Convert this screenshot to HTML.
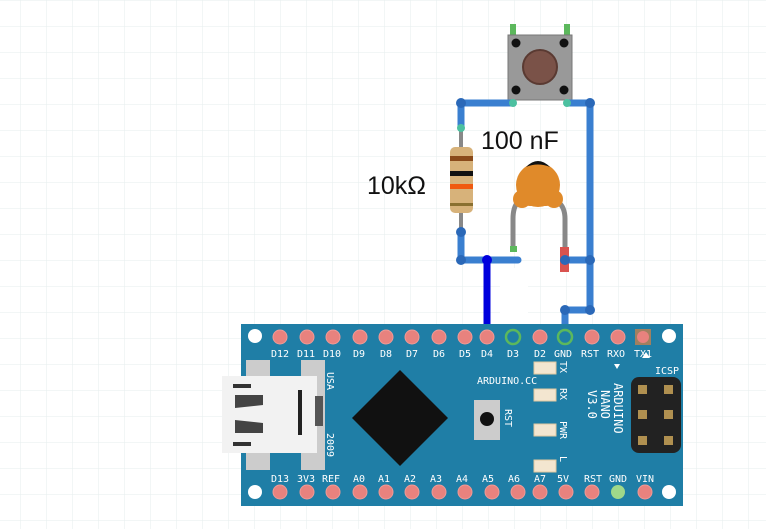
<!DOCTYPE html>
<html><head><meta charset="utf-8"><style>
body{margin:0;background:#fff;width:766px;height:529px;overflow:hidden}
svg{display:block}
.t{font-family:"DejaVu Sans Mono","Liberation Mono",monospace;font-size:10px;fill:#fff}
</style></head><body>
<svg width="766" height="529" viewBox="0 0 766 529">
<defs>
<pattern id="g" x="20" y="26" width="26" height="26" patternUnits="userSpaceOnUse">
<path d="M0 0H26M0 0V26" stroke="#e9f0f0" stroke-width="1.2" fill="none"/>
</pattern>
</defs>
<rect width="766" height="529" fill="url(#g)"/>
<rect x="500" y="268" width="28" height="60" fill="#fff"/>

<!-- pushbutton -->
<rect x="510" y="24" width="6" height="12" fill="#5cb85c"/>
<rect x="564" y="24" width="6" height="12" fill="#5cb85c"/>
<rect x="508" y="35" width="64" height="65" fill="#999" stroke="#777"/>
<circle cx="516" cy="43" r="4.5" fill="#111"/><circle cx="564" cy="43" r="4.5" fill="#111"/>
<circle cx="516" cy="90" r="4.5" fill="#111"/><circle cx="564" cy="90" r="4.5" fill="#111"/>
<circle cx="540" cy="67" r="17" fill="#7a5248" stroke="#5a3a32" stroke-width="2"/>

<!-- capacitor -->
<path d="M518 202Q513 207 513 219V250M558 202Q565 207 565 219V258" stroke="#888" stroke-width="5" fill="none"/>
<rect x="560" y="247" width="9" height="25" fill="#d9534f"/>
<rect x="510" y="246" width="7" height="6" fill="#5cb85c"/>
<circle cx="538" cy="185" r="22" fill="#e08a2a"/>
<circle cx="522" cy="199" r="9" fill="#e08a2a"/>
<circle cx="554" cy="199" r="9" fill="#e08a2a"/>
<rect x="522" y="185" width="32" height="21" rx="8" fill="#e08a2a"/>
<path d="M526 167Q538 155 550 167Q538 162 526 167z" fill="#111"/>

<!-- resistor -->
<path d="M461 128V240" stroke="#888" stroke-width="4"/>
<rect x="450" y="147" width="23" height="66" rx="5" fill="#d7b27a"/>
<rect x="450" y="156" width="23" height="5" fill="#8a4a1a"/>
<rect x="450" y="171" width="23" height="5" fill="#111"/>
<rect x="450" y="184" width="23" height="5" fill="#f05a10"/>
<rect x="450" y="203" width="23" height="3" fill="#8a7030"/>

<!-- wires -->
<g stroke="#3a7fd0" stroke-width="7" fill="none" stroke-linecap="round" stroke-linejoin="round">
<path d="M513 103H461V128"/>
<path d="M567 103H590V310H565V337"/>
<path d="M461 232V260H518"/>
<path d="M565 260H590"/>
<path d="M513 328V337" stroke="#5aa0e0"/>
</g>
<g fill="#2a68b8">
<circle cx="461" cy="103" r="5"/><circle cx="590" cy="103" r="5"/><circle cx="461" cy="232" r="5"/>
<circle cx="461" cy="260" r="5"/><circle cx="565" cy="260" r="5"/><circle cx="590" cy="260" r="5"/>
<circle cx="590" cy="310" r="5"/><circle cx="565" cy="310" r="5"/>
</g>
<g fill="#4cc0a0"><circle cx="513" cy="103" r="4"/><circle cx="567" cy="103" r="4"/><circle cx="461" cy="128" r="4"/></g>
<path d="M487 260V330" stroke="#0000dd" stroke-width="7"/>
<circle cx="487" cy="260" r="5" fill="#0000dd"/>

<text x="481" y="149" font-family="Liberation Sans,sans-serif" font-size="25" fill="#111">100 nF</text>
<text x="367" y="194" font-family="Liberation Sans,sans-serif" font-size="25" fill="#111">10kΩ</text>

<!-- board -->
<rect x="241" y="324" width="442" height="182" fill="#1f7ea6"/>
<circle cx="255" cy="336" r="7" fill="#fff"/><circle cx="669" cy="336" r="7" fill="#fff"/>
<circle cx="255" cy="492" r="7" fill="#fff"/><circle cx="669" cy="492" r="7" fill="#fff"/>
<g fill="#e8827e" stroke="#f09a96" stroke-width="1">
<circle cx="280" cy="337" r="7"/><circle cx="307" cy="337" r="7"/><circle cx="333" cy="337" r="7"/><circle cx="360" cy="337" r="7"/><circle cx="386" cy="337" r="7"/><circle cx="412" cy="337" r="7"/><circle cx="439" cy="337" r="7"/><circle cx="465" cy="337" r="7"/><circle cx="487" cy="337" r="7"/><circle cx="540" cy="337" r="7"/><circle cx="592" cy="337" r="7"/><circle cx="618" cy="337" r="7"/>
<circle cx="280" cy="492" r="7"/><circle cx="307" cy="492" r="7"/><circle cx="333" cy="492" r="7"/><circle cx="360" cy="492" r="7"/><circle cx="386" cy="492" r="7"/><circle cx="412" cy="492" r="7"/><circle cx="439" cy="492" r="7"/><circle cx="465" cy="492" r="7"/><circle cx="492" cy="492" r="7"/><circle cx="518" cy="492" r="7"/><circle cx="540" cy="492" r="7"/><circle cx="566" cy="492" r="7"/><circle cx="592" cy="492" r="7"/><circle cx="645" cy="492" r="7"/>
</g>
<rect x="635" y="329" width="16" height="16" fill="#a08060"/><circle cx="643" cy="337" r="6" fill="#e8827e"/>
<circle cx="513" cy="337" r="7" fill="#1f7ea6" stroke="#5cb85c" stroke-width="2.5"/>
<circle cx="565" cy="337" r="7" fill="#1f7ea6" stroke="#5cb85c" stroke-width="2.5"/>
<circle cx="618" cy="492" r="7" fill="#9fd88a"/>
<g class="t">
<text x="271" y="357">D12</text><text x="297" y="357">D11</text><text x="323" y="357">D10</text><text x="353" y="357">D9</text><text x="380" y="357">D8</text><text x="406" y="357">D7</text><text x="433" y="357">D6</text><text x="459" y="357">D5</text><text x="481" y="357">D4</text><text x="507" y="357">D3</text><text x="534" y="357">D2</text><text x="554" y="357">GND</text><text x="581" y="357">RST</text><text x="607" y="357">RXO</text><text x="634" y="357">TX1</text>
<text x="271" y="482">D13</text><text x="297" y="482">3V3</text><text x="322" y="482">REF</text><text x="353" y="482">A0</text><text x="378" y="482">A1</text><text x="404" y="482">A2</text><text x="430" y="482">A3</text><text x="456" y="482">A4</text><text x="482" y="482">A5</text><text x="508" y="482">A6</text><text x="534" y="482">A7</text><text x="557" y="482">5V</text><text x="584" y="482">RST</text><text x="609" y="482">GND</text><text x="636" y="482">VIN</text>
<text x="477" y="384">ARDUINO.CC</text><text x="655" y="374">ICSP</text>
</g>
<g class="t" transform="rotate(90)">
<text x="372" y="-327">USA</text><text x="433" y="-327">2009</text><text x="409" y="-505">RST</text>
<text x="361" y="-560">TX</text><text x="388" y="-560">RX</text><text x="421" y="-560">PWR</text><text x="456" y="-560">L</text>
<text x="383" y="-614" font-size="12">ARDUINO</text><text x="390" y="-601" font-size="12">NANO</text><text x="390" y="-588" font-size="12">V3.0</text>
</g>
<path d="M614 364l6 0-3 5z" fill="#fff"/>
<path d="M642 358l4-6 4 6z" fill="#fff"/>
<!-- usb -->
<rect x="246" y="360" width="24" height="110" fill="#ccc"/><rect x="301" y="360" width="24" height="110" fill="#ccc"/>
<rect x="222" y="376" width="95" height="77" fill="#f2f2f2"/>
<rect x="233" y="384" width="18" height="4" fill="#333"/><rect x="233" y="442" width="18" height="4" fill="#333"/>
<path d="M235 395h28v10l-28 3zm0 38h28v-10l-28-3z" fill="#444"/>
<rect x="298" y="390" width="4" height="45" fill="#222"/>
<rect x="315" y="396" width="8" height="30" fill="#555"/>
<!-- chip -->
<path d="M400 370l48 48-48 48-48-48z" fill="#111"/>
<rect x="474" y="400" width="26" height="40" fill="#ccc"/><circle cx="487" cy="419" r="7" fill="#111"/>
<g fill="#f3e6d0" stroke="#e0c8a0"><rect x="534" y="362" width="22" height="12"/><rect x="534" y="389" width="22" height="12"/><rect x="534" y="424" width="22" height="12"/><rect x="534" y="460" width="22" height="12"/></g>
<rect x="631" y="377" width="50" height="76" rx="8" fill="#222"/>
<g fill="#b09050"><rect x="638" y="385" width="9" height="9"/><rect x="664" y="385" width="9" height="9"/><rect x="638" y="410" width="9" height="9"/><rect x="664" y="410" width="9" height="9"/><rect x="638" y="436" width="9" height="9"/><rect x="664" y="436" width="9" height="9"/></g>
</svg>
</body></html>
